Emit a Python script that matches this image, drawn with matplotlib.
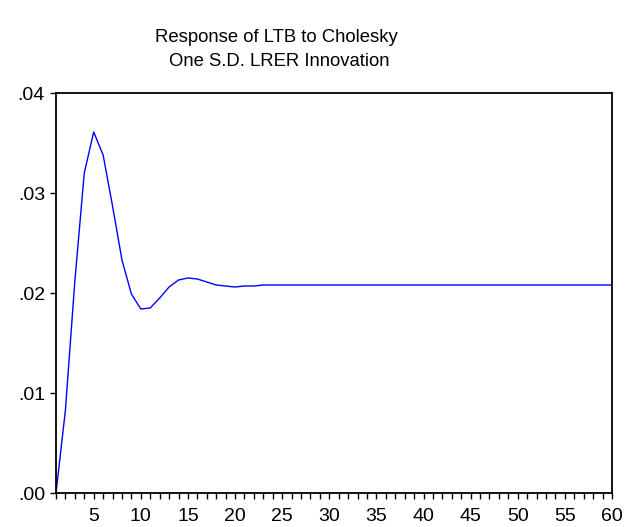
import matplotlib.pyplot as plt
from matplotlib.ticker import MultipleLocator, FuncFormatter

plt.rcParams['font.family'] = ['Liberation Sans', 'DejaVu Sans']

# impulse response, periods 1..60
periods = list(range(1, 61))
response = [0.0000, 0.0083, 0.0212, 0.0320, 0.0361, 0.0338, 0.0287, 0.0233, 0.0199, 0.0184,
            0.0185, 0.0195, 0.0206, 0.0213, 0.0215, 0.0214, 0.0211, 0.0208, 0.0207, 0.0206,
            0.0207, 0.0207, 0.0208, 0.0208, 0.0208, 0.0208, 0.0208, 0.0208, 0.0208, 0.0208,
            0.0208, 0.0208, 0.0208, 0.0208, 0.0208, 0.0208, 0.0208, 0.0208, 0.0208, 0.0208,
            0.0208, 0.0208, 0.0208, 0.0208, 0.0208, 0.0208, 0.0208, 0.0208, 0.0208, 0.0208,
            0.0208, 0.0208, 0.0208, 0.0208, 0.0208, 0.0208, 0.0208, 0.0208, 0.0208, 0.0208]

title_lines = ['Response of LTB to Cholesky', 'One S.D. LRER Innovation']

fig = plt.figure(figsize=(6.27, 5.27), dpi=100)
ax = fig.add_axes([56 / 627, 1 - 493 / 527, 556 / 627, 400 / 527])

ax.plot(periods, response, color='#0000ff', lw=1.0)

ax.set_xlim(1, 60)
ax.set_ylim(0, 0.04)
ax.xaxis.set_major_locator(MultipleLocator(5))
ax.xaxis.set_minor_locator(MultipleLocator(1))
ax.yaxis.set_major_locator(MultipleLocator(0.01))
ax.yaxis.set_major_formatter(FuncFormatter(lambda v, p: ('%.2f' % v)[1:]))

ax.tick_params(axis='both', which='both', direction='out', length=4.5, width=1,
               labelsize=14)
ax.tick_params(axis='x', pad=6)
ax.tick_params(axis='y', pad=3.5)
for s in ax.spines.values():
    s.set_linewidth(1.3)

fig.text(276 / 627, 1 - 38 / 527, title_lines[0], ha='center', va='center', fontsize=13.3)
fig.text(279 / 627, 1 - 62 / 527, title_lines[1], ha='center', va='center', fontsize=13.3)

fig.savefig('out.png', dpi=100)
